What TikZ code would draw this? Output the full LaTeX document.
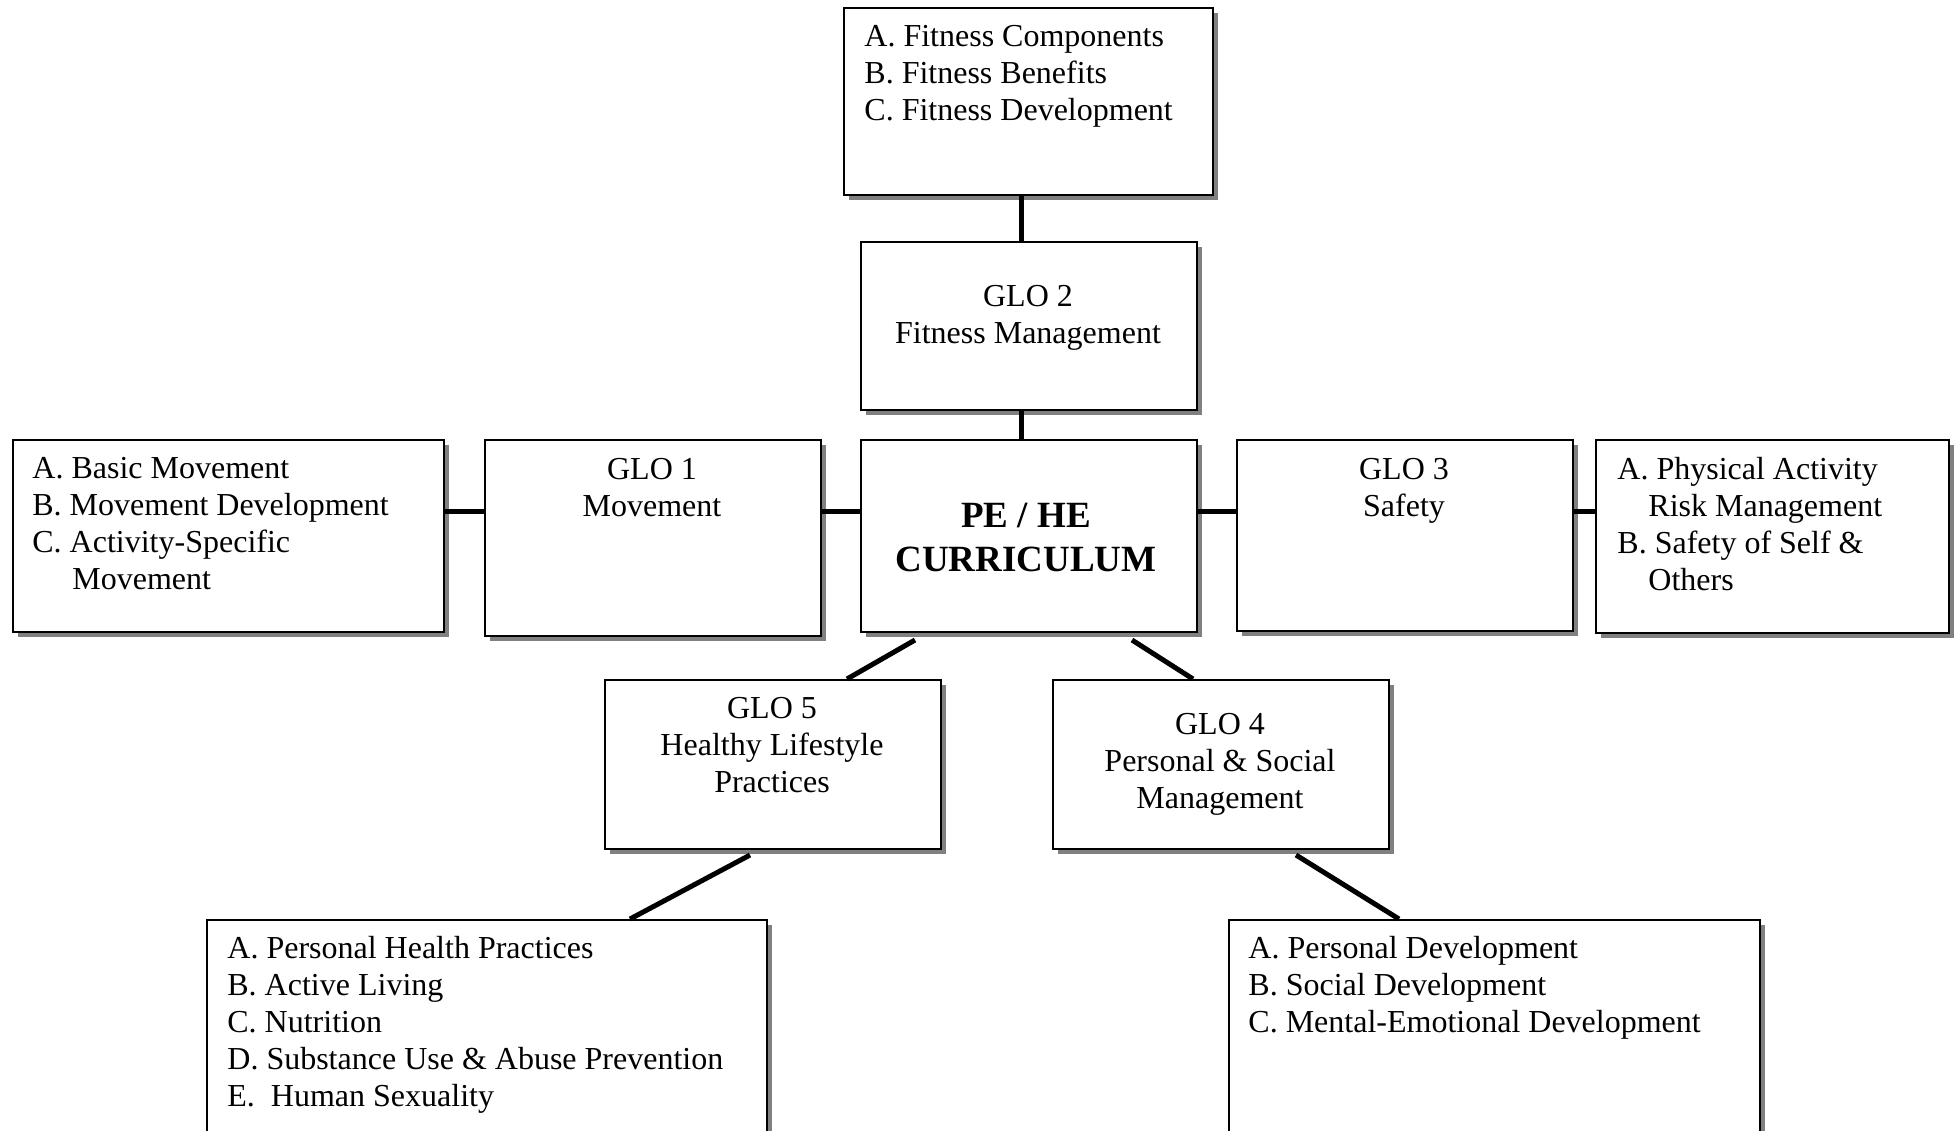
\documentclass[tikz,border=0pt]{standalone}
\usepackage{fontspec}
\setmainfont{Liberation Serif}
\usetikzlibrary{calc,shadows}
\begin{document}
\begin{tikzpicture}[x=0.5pt,y=-0.5pt,
  box/.style={draw, line width=1pt, fill=white, anchor=north west, inner sep=0pt,
    drop shadow={shadow xshift=2.5pt, shadow yshift=-2.5pt, fill=black!50, opacity=1}},
  txt/.style={anchor=base west, inner sep=0pt, align=left, font=\fontsize{16pt}{18.5pt}\selectfont},
  ctxt/.style={anchor=base, inner sep=0pt, align=center, font=\fontsize{16pt}{18.5pt}\selectfont},
  conn/.style={line width=2.5pt}]
\useasboundingbox (0,0) rectangle (1959,1130);
\clip (0,0) rectangle (1959,1130);

% boxes
\node[box, minimum width=184.5pt, minimum height=93.5pt] (top) at (843,7) {};
\node[box, minimum width=168pt, minimum height=84pt] (glo2) at (860,241) {};
\node[box, minimum width=168pt, minimum height=96pt] (cen) at (860,439) {};
\node[box, minimum width=168pt, minimum height=98pt] (glo1) at (484,439) {};
\node[box, minimum width=215.5pt, minimum height=96pt] (lft) at (12,439) {};
\node[box, minimum width=168pt, minimum height=95.5pt] (glo3) at (1236,439) {};
\node[box, minimum width=176.5pt, minimum height=96.5pt] (rgt) at (1595,439) {};
\node[box, minimum width=168pt, minimum height=84.5pt] (glo5) at (604,679) {};
\node[box, minimum width=168pt, minimum height=84.5pt] (glo4) at (1052,679) {};
\node[box, minimum width=280pt, minimum height=115pt] (bl) at (206,919) {};
\node[box, minimum width=265.5pt, minimum height=115pt] (br) at (1228,919) {};

% texts (base anchor = baseline of the last line)
\node[txt] (ttop) at (864,120) {A. Fitness Components\\B. Fitness Benefits\\C. Fitness Development};
\node[ctxt] (tglo2) at (1028,343) {GLO 2\\Fitness Management};
\node[ctxt, font=\bfseries\fontsize{18.5pt}{22pt}\selectfont] (tcen) at (1026,571) {PE / HE\\CURRICULUM};
\node[ctxt] (tglo1) at (652,516) {GLO 1\\Movement};
\node[txt] (tlft) at (32,589) {A. Basic Movement\\B. Movement Development\\C. Activity-Specific\\\hspace*{20pt}Movement};
\node[ctxt] (tglo3) at (1404,516) {GLO 3\\Safety};
\node[txt] (trgt) at (1617,590) {A. Physical Activity\\\hspace*{15.5pt}Risk Management\\B. Safety of Self \&\\\hspace*{15.5pt}Others};
\node[ctxt] (tglo5) at (772,792) {GLO 5\\Healthy Lifestyle\\Practices};
\node[ctxt] (tglo4) at (1220,808) {GLO 4\\Personal \& Social\\Management};
\node[txt] (tbl) at (227,1106) {A. Personal Health Practices\\B. Active Living\\C. Nutrition\\D. Substance Use \& Abuse Prevention\\E.\ \ Human Sexuality};
\node[txt] (tbr) at (1248,1032) {A. Personal Development\\B. Social Development\\C. Mental-Emotional Development};

% connectors
\coordinate (hline) at (0,511);
\draw[conn] ($(top.south)+(-7.5,0)$) -- ($(glo2.north)+(-8,0)$);
\draw[conn] ($(glo2.south)+(-8,0)$) -- ($(cen.north)+(-8,0)$);
\draw[conn] (lft.east |- hline) -- (glo1.west |- hline);
\draw[conn] (glo1.east |- hline) -- (cen.west |- hline);
\draw[conn] (cen.east |- hline) -- (glo3.west |- hline);
\draw[conn] (glo3.east |- hline) -- (rgt.west |- hline);
\draw[conn] ($(cen.south west)+(55,7)$) -- ($(glo5.north west)+(243,0)$);
\draw[conn] ($(cen.south west)+(272,7)$) -- ($(glo4.north west)+(141,0)$);
\draw[conn] ($(glo5.south west)+(146,5)$) -- ($(bl.north west)+(424,0)$);
\draw[conn] ($(glo4.south west)+(244,5)$) -- ($(br.north west)+(171,0)$);
\end{tikzpicture}
\end{document}
